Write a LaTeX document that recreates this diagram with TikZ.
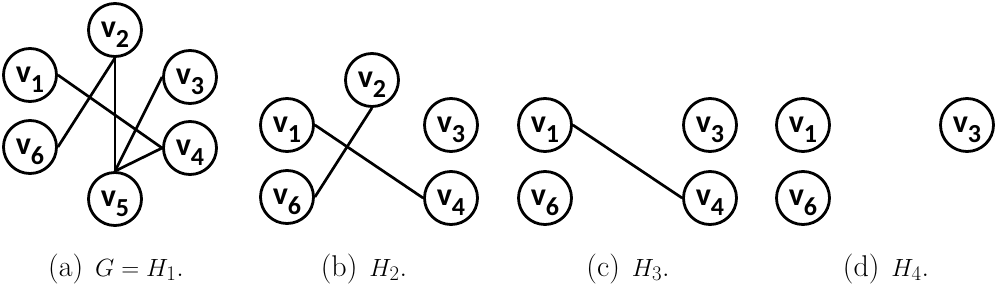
\documentclass[tikz,border=0pt]{standalone}
\usepackage{fontspec}
\usepackage{tikz}
\newfontfamily\vertexfont{Carlito}
\newcommand{\vlab}[1]{v\raisebox{-10pt}{\fontsize{26pt}{26pt}\selectfont #1}}
\newcommand{\subcap}[2]{(#1)\hspace{12pt}$#2$.}
\tikzstyle{vertex} = [circle, draw, line width=2.8pt, minimum size=53pt, inner sep=0pt,
                      font={\vertexfont\bfseries\fontsize{32pt}{32pt}\selectfont},
                      text height=20pt, text depth=6pt]
\tikzstyle{edge} = [line width=2.7pt]
\tikzstyle{captext} = [anchor=base, font={\fontsize{30pt}{32pt}\selectfont}]

\begin{document}
\begin{tikzpicture}[x=1pt, y=-1pt]

\useasboundingbox (0, 0) rectangle (1000, 284);

% Panel (a): G = H1
\node[vertex] (a1) at (30, 75) {\vlab{1}};
\node[vertex] (a2) at (115, 30) {\vlab{2}};
\node[vertex] (a3) at (190, 77) {\vlab{3}};
\node[vertex] (a4) at (190, 148) {\vlab{4}};
\node[vertex] (a5) at (115, 199) {\vlab{5}};
\node[vertex] (a6) at (30, 147) {\vlab{6}};

\draw[edge] (a1.east) -- (a4.west);
\draw[edge] (a6.east) -- (a2.south);
\draw[edge] (a2.south) -- (a5.north);
\draw[edge] (a3.west) -- (a5.north);
\draw[edge] (a4.west) -- (a5.north);

% Panel (b): H2
\node[vertex] (b1) at (287, 125) {\vlab{1}};
\node[vertex] (b2) at (372, 80) {\vlab{2}};
\node[vertex] (b3) at (451, 125) {\vlab{3}};
\node[vertex] (b4) at (451, 198) {\vlab{4}};
\node[vertex] (b6) at (287, 197) {\vlab{6}};

\draw[edge] (b1.east) -- (b4.west);
\draw[edge] (b6.east) -- (b2.south);

% Panel (c): H3
\node[vertex] (c1) at (545, 125) {\vlab{1}};
\node[vertex] (c3) at (710, 125) {\vlab{3}};
\node[vertex] (c4) at (710, 198) {\vlab{4}};
\node[vertex] (c6) at (545, 198) {\vlab{6}};

\draw[edge] (c1.east) -- (c4.west);

% Panel (d): H4
\node[vertex] (d1) at (803, 125) {\vlab{1}};
\node[vertex] (d3) at (967, 125) {\vlab{3}};
\node[vertex] (d6) at (803, 198) {\vlab{6}};

% Captions
\node[captext] (capa) at (116, 276) {\subcap{a}{G=H_1}};
\node[captext] (capb) at (364, 276) {\subcap{b}{H_2}};
\node[captext] (capc) at (628, 276) {\subcap{c}{H_3}};
\node[captext] (capd) at (886, 276) {\subcap{d}{H_4}};

\end{tikzpicture}
\end{document}
